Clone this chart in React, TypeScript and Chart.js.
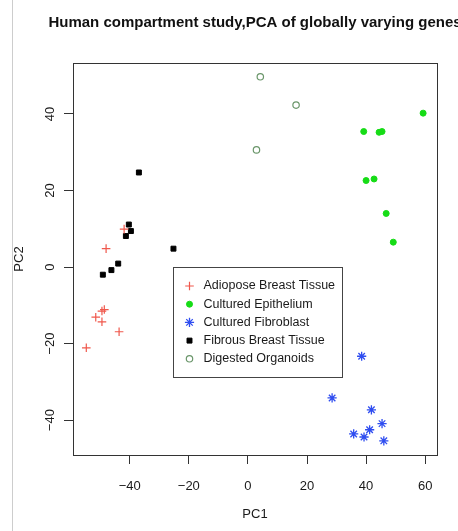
import React, { useEffect, useRef } from 'react';
import { Chart, registerables } from 'chart.js';
import { drawPoint } from 'chart.js/helpers';

Chart.register(...registerables);

const chartTitle = 'Human compartment study,PCA of globally varying genes';
const xTitle = 'PC1';
const yTitle = 'PC2';

const seriesNames = [
  'Adiopose Breast Tissue',
  'Cultured Epithelium',
  'Cultured Fibroblast',
  'Fibrous Breast Tissue',
  'Digested Organoids',
];

const adiposePC1 = [-48.0, -41.9, -48.6, -49.4, -51.5, -49.4, -43.6, -54.7];
const adiposePC2 = [4.8, 9.9, -11.1, -11.5, -13.1, -14.3, -16.9, -21.1];

const epitheliumPC1 = [59.3, 39.2, 44.4, 45.4, 40.0, 42.7, 46.8, 49.2];
const epitheliumPC2 = [40.2, 35.4, 35.2, 35.4, 22.6, 23.0, 14.0, 6.5];

const fibroblastPC1 = [38.5, 28.5, 41.8, 45.4, 41.2, 35.8, 39.3, 46.0];
const fibroblastPC2 = [-23.3, -34.2, -37.3, -40.9, -42.5, -43.6, -44.4, -45.4];

const fibrousPC1 = [-36.9, -40.3, -39.6, -41.3, -25.2, -43.9, -46.2, -49.1];
const fibrousPC2 = [24.7, 11.1, 9.4, 8.1, 4.8, 0.9, -0.8, -2.0];

const organoidPC1 = [4.2, 16.3, 2.9];
const organoidPC2 = [49.7, 42.3, 30.6];

const xTicks = [-40, -20, 0, 20, 40, 60];
const yTicks = [-40, -20, 0, 20, 40];
const xRange = [-59.2, 64.0];
const yRange = [-49.1, 53.3];

const FONT = '"Liberation Sans", Arial, Helvetica, sans-serif';

const toPoints = (xs: number[], ys: number[]) => xs.map((x, i) => ({ x, y: ys[i] }));
const fmt = (v: number) => (v < 0 ? '\u2212' + Math.abs(v) : String(v));

const styles = [
  { pointStyle: 'cross', radius: 4.3, borderColor: '#f0584c', backgroundColor: '#f0584c', borderWidth: 1.2 },
  { pointStyle: 'circle', radius: 3, borderColor: '#16dc16', backgroundColor: '#16dc16', borderWidth: 1 },
  { pointStyle: 'star', radius: 4.6, borderColor: '#2f4df0', backgroundColor: '#2f4df0', borderWidth: 1.3 },
  { pointStyle: 'rect', radius: 3.5, borderColor: '#000000', backgroundColor: '#000000', borderWidth: 1 },
  { pointStyle: 'circle', radius: 3.2, borderColor: '#6a966a', backgroundColor: 'rgba(0,0,0,0)', borderWidth: 1.2 },
];

const decorPlugin = {
  id: 'decor',
  afterDraw(chart: any) {
    const { ctx, chartArea, scales } = chart;
    ctx.save();
    // frame artifact on the left edge
    ctx.strokeStyle = '#cdcdcd';
    ctx.lineWidth = 1;
    ctx.beginPath();
    ctx.moveTo(12.5, 0);
    ctx.lineTo(12.5, chart.height);
    ctx.stroke();

    // plot box
    ctx.strokeStyle = '#333';
    ctx.lineWidth = 1;
    ctx.strokeRect(
      Math.round(chartArea.left) + 0.5,
      Math.round(chartArea.top) + 0.5,
      Math.round(chartArea.right - chartArea.left),
      Math.round(chartArea.bottom - chartArea.top)
    );

    // title
    ctx.fillStyle = '#111';
    ctx.font = `bold 15px ${FONT}`;
    ctx.textAlign = 'center';
    ctx.textBaseline = 'middle';
    ctx.fillText(chartTitle, (chartArea.left + chartArea.right) / 2, 23);

    // legend (anchored in data coordinates, like R's legend(x, y))
    const lx = Math.round(scales.x.getPixelForValue(-25.3)) + 0.5;
    const ly = Math.round(scales.y.getPixelForValue(0.1)) + 0.5;
    const lw = 169;
    const lh = 110;
    ctx.fillStyle = '#ffffff';
    ctx.fillRect(lx, ly, lw, lh);
    ctx.strokeStyle = '#444';
    ctx.strokeRect(lx, ly, lw, lh);
    ctx.font = `12.5px ${FONT}`;
    ctx.textAlign = 'left';
    ctx.textBaseline = 'middle';
    seriesNames.forEach((name, i) => {
      const cy = ly + 18.5 + i * 18.2;
      const st = styles[i];
      ctx.fillStyle = st.backgroundColor;
      ctx.strokeStyle = st.borderColor;
      ctx.lineWidth = st.borderWidth;
      drawPoint(ctx, { pointStyle: st.pointStyle as any, radius: st.radius, rotation: 0, borderWidth: st.borderWidth }, lx + 16, cy);
      ctx.fillStyle = '#1a1a1a';
      ctx.fillText(name, lx + 30, cy);
    });
    ctx.restore();
  },
};

export default function App() {
  const ref = useRef<HTMLCanvasElement | null>(null);

  useEffect(() => {
    if (!ref.current) return;
    const series = [
      toPoints(adiposePC1, adiposePC2),
      toPoints(epitheliumPC1, epitheliumPC2),
      toPoints(fibroblastPC1, fibroblastPC2),
      toPoints(fibrousPC1, fibrousPC2),
      toPoints(organoidPC1, organoidPC2),
    ];
    const chart = new Chart(ref.current, {
      type: 'scatter',
      data: {
        datasets: series.map((data, i) => ({
          label: seriesNames[i],
          data,
          pointStyle: styles[i].pointStyle as any,
          pointRadius: styles[i].radius,
          pointBorderColor: styles[i].borderColor,
          pointBackgroundColor: styles[i].backgroundColor,
          pointBorderWidth: styles[i].borderWidth,
          borderColor: styles[i].borderColor,
          backgroundColor: styles[i].backgroundColor,
        })),
      },
      options: {
        responsive: false,
        animation: false,
        devicePixelRatio: 1,
        layout: { padding: { top: 63, right: 21, left: 0, bottom: 0 } },
        plugins: {
          legend: { display: false },
          tooltip: { enabled: false },
          title: { display: false },
        },
        scales: {
          x: {
            type: 'linear',
            min: xRange[0],
            max: xRange[1],
            afterFit: (s: any) => {
              s.height = 76;
            },
            afterBuildTicks: (s: any) => {
              s.ticks = xTicks.map((v) => ({ value: v }));
            },
            grid: { display: true, drawOnChartArea: false, drawTicks: true, tickLength: 9, color: '#333', lineWidth: 1 },
            border: { display: false },
            ticks: {
              color: '#1a1a1a',
              font: { family: FONT, size: 13 },
              padding: 15,
              maxRotation: 0,
              minRotation: 0,
              callback: (v: any) => fmt(Number(v)),
            },
            title: {
              display: true,
              text: xTitle,
              color: '#1a1a1a',
              font: { family: FONT, size: 13 },
              padding: { top: 0, bottom: 9 },
            },
          },
          y: {
            type: 'linear',
            min: yRange[0],
            max: yRange[1],
            afterFit: (s: any) => {
              s.width = 73;
            },
            afterBuildTicks: (s: any) => {
              s.ticks = yTicks.map((v) => ({ value: v }));
            },
            grid: { display: true, drawOnChartArea: false, drawTicks: true, tickLength: 9, color: '#333', lineWidth: 1 },
            border: { display: false },
            ticks: {
              color: '#1a1a1a',
              font: { family: FONT, size: 13 },
              padding: 3,
              minRotation: 90,
              maxRotation: 90,
              crossAlign: 'center',
              callback: (v: any) => fmt(Number(v)),
            },
            title: {
              display: true,
              text: yTitle,
              color: '#1a1a1a',
              font: { family: FONT, size: 13 },
              padding: { top: 11.5, bottom: 0 },
            },
          },
        },
      },
      plugins: [decorPlugin],
    } as any);
    return () => chart.destroy();
  }, []);

  return (
    <div style={{ position: 'fixed', left: 0, top: 0, width: 458, height: 531, overflow: 'hidden', background: '#fff' }}>
      <canvas ref={ref} width={458} height={531} style={{ display: 'block' }} />
    </div>
  );
}
